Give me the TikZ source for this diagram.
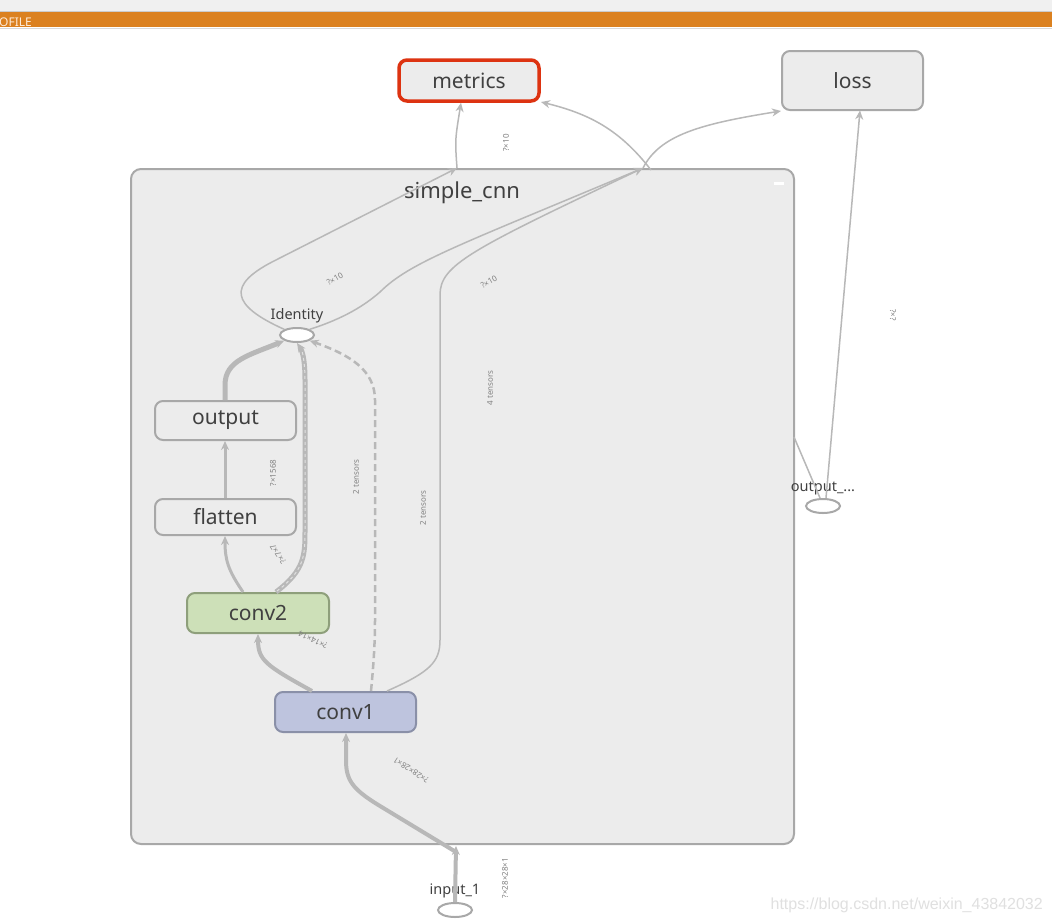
\documentclass[tikz,border=0pt]{standalone}
\usepackage{fontspec}
\setmainfont{Noto Sans}
\newfontfamily\wmfont{Liberation Sans}
\usetikzlibrary{arrows.meta,shapes.geometric}
\definecolor{edgegray}{HTML}{B8B8B8}
\definecolor{boxgray}{HTML}{ECECEC}
\definecolor{bordgray}{HTML}{A8A8A8}
\definecolor{txtgray}{HTML}{404040}
\definecolor{metred}{HTML}{DD3311}
\definecolor{c2fill}{HTML}{CDE0B8}
\definecolor{c2draw}{HTML}{8E9F7B}
\definecolor{c1fill}{HTML}{BEC4DE}
\definecolor{c1draw}{HTML}{8A90A8}
\definecolor{barorange}{HTML}{DB8120}
\tikzset{
  opbox/.style={draw=bordgray,line width=2pt,fill=boxgray,rounded corners=8pt,text=txtgray,font=\fontsize{21}{24}\selectfont,inner sep=0pt},
  opell/.style={ellipse,draw=bordgray,line width=2pt,fill=white,minimum width=34pt,minimum height=14pt,inner sep=0pt},
  elabel/.style={text=txtgray,font=\fontsize{14.5}{16}\selectfont},
  tiny/.style={text=gray,font=\fontsize{8}{9}\selectfont,inner sep=0pt},
  edge/.style={draw=edgegray,line width=1.5pt,-{Stealth[length=9pt,width=8pt]}},
  thickedge/.style={edge,line width=4pt},
  midedge/.style={edge,line width=3pt},
}
\begin{document}
\begin{tikzpicture}[x=1pt,y=-1pt]
\useasboundingbox (0,0) rectangle (1052,922);
\fill[white] (0,0) rectangle (1052,922);
% top bars
\fill[black!6] (0,0) rectangle (1052,11);
\draw[black!20,line width=1pt] (0,11.5) -- (1052,11.5);
\fill[barorange] (0,12) rectangle (1052,27);
\draw[black!15,line width=1pt] (0,28) -- (1052,28);
\node[anchor=base west,inner sep=0pt,text=white!85!orange,font=\fontsize{12}{13}\selectfont] (tab) at (-1,26.5) {OFILE};

% simple_cnn box
\node[draw=bordgray,line width=2pt,fill=boxgray,rounded corners=10pt,minimum width=663pt,minimum height=675pt,inner sep=0pt] (cnn) at (462.5,506.5) {};
\node[text=txtgray,font=\fontsize{22}{26}\selectfont] (cnntitle) at (462,193) {simple\_cnn};
\fill[white] (774,182) rectangle (784,184.5);

% top nodes
\node[opbox,draw=metred,line width=3.5pt,minimum width=140pt,minimum height=41pt] (metrics) at (469,80.5) {metrics};
\node[opbox,minimum width=141pt,minimum height=59pt] (loss) at (852.5,80.5) {loss};

% inner nodes
\node[opbox,minimum width=141pt,minimum height=39pt] (output) at (225.5,420.5) {output};
\node[opbox,minimum width=141pt,minimum height=36pt] (flatten) at (225.5,517) {flatten};
\node[opbox,fill=c2fill,draw=c2draw,minimum width=142pt,minimum height=40pt] (conv2) at (258,613) {conv2};
\node[opbox,fill=c1fill,draw=c1draw,minimum width=141pt,minimum height=40pt] (conv1) at (345.5,712) {conv1};

% ellipses
\node[opell] (identity) at (297,335) {};
\node[elabel] (identitylbl) at (297,316) {Identity};
\node[opell] (outell) at (823,506) {};
\node[elabel] (outlbl) at (823,488) {output\_...};
\node[opell] (inell) at (455,910) {};
\node[elabel] (inlbl) at (455,891) {input\_1};

% junction coordinates
\coordinate (jm) at (457,168);
\coordinate (jr) at (643,168);
\coordinate (jin) at (456,846);
\coordinate (boxr) at (794,437);

% edges
\draw[edge] (identity.north west) .. controls (230,305) and (228,285) .. (272,262) -- (jm);
\draw[edge] (jm) .. controls (455,140) .. (metrics.south -| 461,0);
\draw[edge] (identity.north east) .. controls (345,318) and (365,305) .. (380,292) .. controls (410,262) and (460,245) .. (jr);
\draw[edge] (conv1.north east) ++(-30,0) .. controls (430,672) and (440,662) .. (440,640) -- (440,295) .. controls (440,265) and (470,250) .. (jr);
\draw[edge] (651,170) .. controls (620,130) and (590,114) .. (541,102);
\draw[edge] (643,168) .. controls (660,135) and (700,124) .. (loss.south west);
\draw[edge] (outell.north) ++(3,0) -- (860,110.5);
\draw[draw=edgegray,line width=1.5pt] (outell.north) ++(-3,0) -- (boxr);

\draw[thickedge] (inell.north) -- (jin);
\draw[thickedge] (456,852) -- (380,806) .. controls (352,789) and (346,780) .. (346,760) -- (conv1.south -| 346,0);
\draw[thickedge] (312,691) .. controls (265,665) and (258,660) .. (conv2.south -| 258,0);
\draw[midedge] (243,592) .. controls (228,570) and (225,560) .. (flatten.south -| 225,0);
\draw[midedge] (flatten.north -| 225,0) -- (output.south -| 225,0);
\draw[thickedge,line width=5pt] (output.north -| 225,0) -- (225,385) .. controls (225,360) and (250,355) .. (identity.south west);
\draw[thickedge,line width=5pt] (276,592) .. controls (305,570) and (305,555) .. (305,530) -- (305,380) .. controls (305,362) and (303,352) .. (identity.south);
\draw[draw=black!12,line width=1pt,dashed] (277,591) .. controls (305,570) and (305,555) .. (305,530) -- (305,380) .. controls (305,364) and (303,356) .. (302,350);
\draw[edge,line width=2.5pt,dash pattern=on 7pt off 4pt] (371,691) .. controls (374,660) and (375,640) .. (375,620) -- (375,400) .. controls (375,370) and (350,355) .. (identity.south east);

% edge labels
\node[tiny,rotate=90] (l1) at (506,143) {?×10};
\node[tiny,rotate=30] (l2) at (335,279) {?×10};
\node[tiny,rotate=30] (l3) at (489,282) {?×10};
\node[tiny,rotate=90] (l4) at (490,388) {4 tensors};
\node[tiny,rotate=90] (l5) at (356,477) {2 tensors};
\node[tiny,rotate=90] (l6) at (423,508) {2 tensors};
\node[tiny,rotate=90] (l7) at (273,473) {?×1568};
\node[tiny,rotate=124] (l8) at (278,554) {?×7×7};
\node[tiny,rotate=155] (l9) at (313,640) {?×14×14};
\node[tiny,rotate=147] (l10) at (411,770) {?×28×28×1};
\node[tiny,rotate=90] (l11) at (505,878) {?×28×28×1};
\node[tiny,rotate=-90] (l12) at (893,315) {?×?};

% watermark
\node[anchor=base east,inner sep=0pt,text=black!12,font=\wmfont\fontsize{16}{18}\selectfont] (wm) at (1043,909) {https://blog.csdn.net/weixin\_43842032};
\end{tikzpicture}
\end{document}
